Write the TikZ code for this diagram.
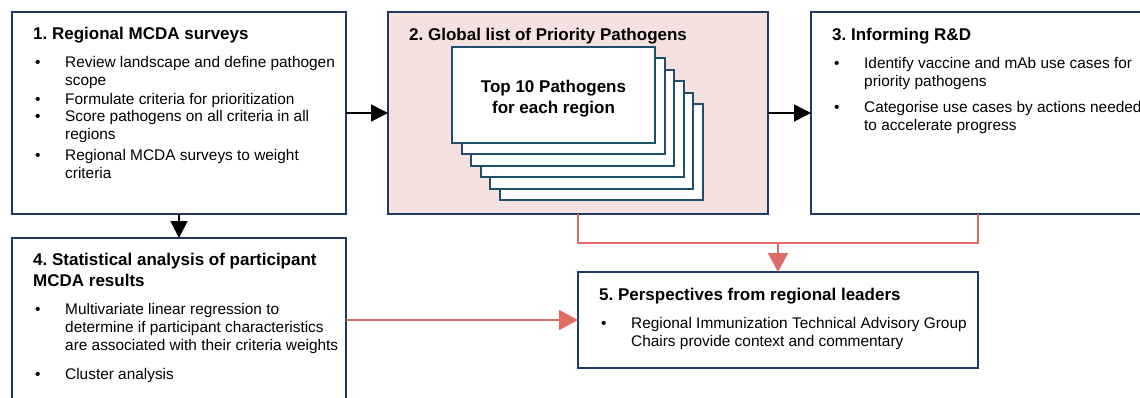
\documentclass[tikz,border=0pt]{standalone}
\usepackage{fontspec}
\setmainfont{Liberation Sans}
\usetikzlibrary{positioning}
\usetikzlibrary{arrows.meta}

\definecolor{boxblue}{HTML}{203864}
\definecolor{cardblue}{HTML}{1D4E6C}
\definecolor{panelpink}{HTML}{F6E1E1}
\definecolor{linkred}{HTML}{DF6B66}

\newcommand{\titlefont}{\fontsize{17}{21}\selectfont\bfseries\frenchspacing}
\newcommand{\bodyfont}{\fontsize{15.4}{18}\selectfont\frenchspacing}
% lines stacked below the first baseline
\newcommand{\lines}[1]{\begin{tabular}[t]{@{}l@{}}#1\end{tabular}}

% one bullet line: name, x, baseline y, text
\newcommand{\bitem}[4]{%
  \node[dot] (#1d) at (#2,#3) {\textbullet};
  \node[itm] (#1) at (#2+30,#3) {\lines{#4}};}

\tikzset{
  stage/.style={draw=boxblue, line width=2pt, fill=white, inner sep=0pt, outer sep=0pt},
  card/.style={draw=cardblue, line width=2pt, fill=white, inner sep=0pt,
    minimum width=203pt, minimum height=96pt},
  head/.style={anchor=base west, inner sep=0pt, font=\titlefont},
  itm/.style={anchor=base west, inner sep=0pt, font=\bodyfont},
  dot/.style={anchor=base west, inner sep=0pt, font=\bodyfont},
  flow/.style={line width=1.5pt, -{Triangle[length=17pt, width=17pt]}},
  link/.style={draw=linkred, line width=1.6pt},
}

\begin{document}
\begin{tikzpicture}[x=1pt, y=-1pt]
    \useasboundingbox (0,0) rectangle (1140,397);
    \clip (0,0) rectangle (1140,397);

    % Boxes
    \node[stage, minimum width=334pt, minimum height=202pt] (b1) at (179,113) {};
    \node[stage, fill=panelpink, minimum width=380pt, minimum height=202pt] (b2) at (578,113) {};
    \node[stage, minimum width=334pt, minimum height=202pt] (b3) at (978,113) {};
    \node[stage, minimum width=334pt, minimum height=164pt] (b4) at (179,320) {};
    \node[stage, minimum width=400pt, minimum height=96pt] (b5) at (778,320) {};

    % stacked cards, back to front
    \foreach \i in {5,4,...,0}
        \node[card] (card\i) at (553.5+9.6*\i, 95+11.4*\i) {};
    \node[font=\titlefont, align=center, inner sep=0pt] (toplist) at (553.5,99)
        {Top 10 Pathogens\\for each region};

    % Labels
    \node[head] (t1) at (33,39) {1. Regional MCDA surveys};
    \bitem{i11}{35}{67}{Review landscape and define pathogen\\scope}
    \bitem{i12}{35}{104}{Formulate criteria for prioritization}
    \bitem{i13}{35}{121}{Score pathogens on all criteria in all\\regions}
    \bitem{i14}{35}{160}{Regional MCDA surveys to weight\\criteria}

    \node[head] (t2) at (409,40) {2. Global list of Priority Pathogens};

    \node[head] (t3) at (832,40) {3. Informing R\&D};
    \bitem{i31}{834}{68}{Identify vaccine and mAb use cases for\\priority pathogens}
    \bitem{i32}{834}{112}{Categorise use cases by actions needed\\to accelerate progress}

    \node[head] (t4) at (33,265) {\lines{4. Statistical analysis of participant\\MCDA results}};
    \bitem{i41}{35}{314}{Multivariate linear regression to\\determine if participant characteristics\\are associated with their criteria weights}
    \bitem{i42}{35}{379}{Cluster analysis}

    \node[head] (t5) at (599,300) {5. Perspectives from regional leaders};
    \bitem{i51}{601}{328}{Regional Immunization Technical Advisory Group\\Chairs provide context and commentary}

    % Arrows
    \draw[flow] (b1.east) -- (b2.west);
    \draw[flow] (b2.east) -- (b3.west);
    \draw[flow] (b1.south) -- (b4.north);

    \coordinate (join) at (778,243);
    \draw[link] (b2.south) |- (join) -| (b3.south);
    \draw[link, -{Triangle[length=19pt, width=20pt]}] (join) -- (b5.north);
    \draw[link, -{Triangle[length=19pt, width=20pt]}] (b4.east) -- (b5.west);

\end{tikzpicture}
\end{document}
